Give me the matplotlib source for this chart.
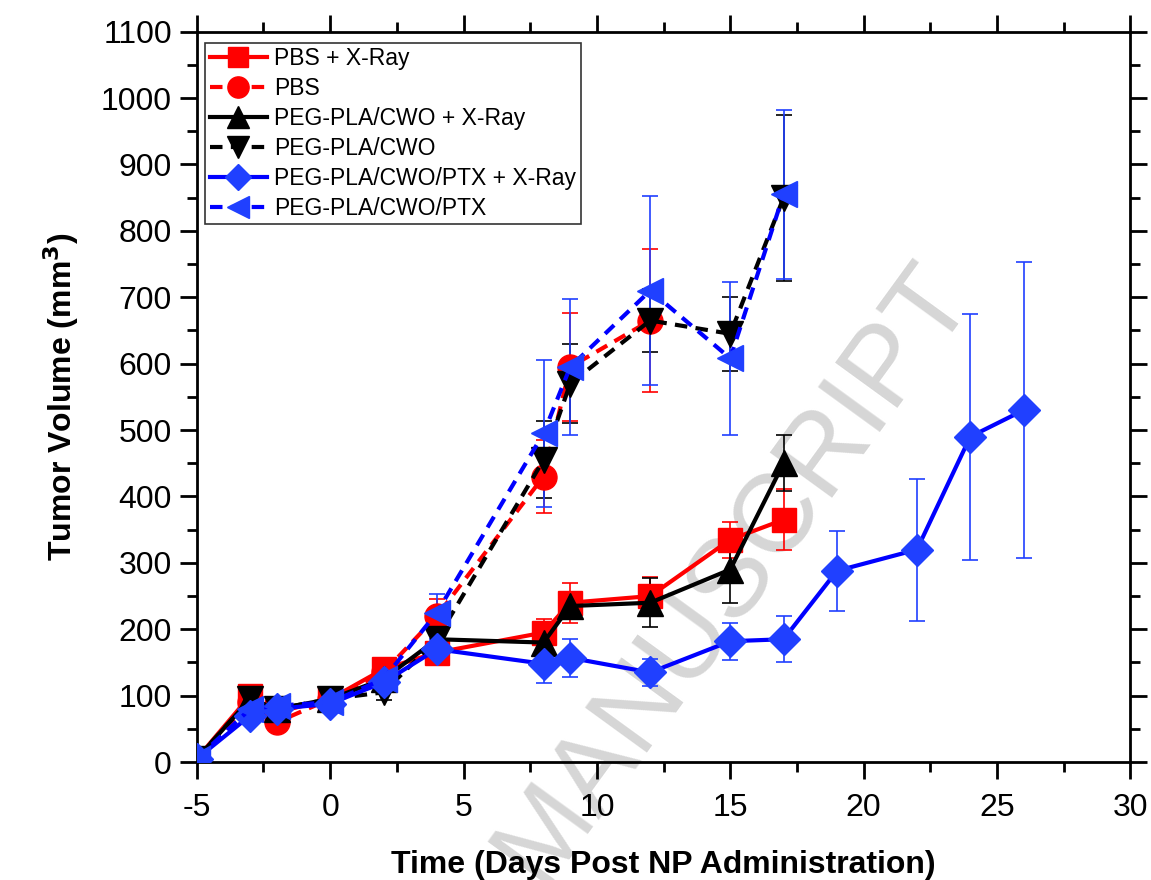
import numpy as np
import matplotlib
matplotlib.use('Agg')
import matplotlib.pyplot as plt
from matplotlib.ticker import MultipleLocator

plt.rcParams['font.family'] = ['Liberation Sans', 'DejaVu Sans']
plt.rcParams['axes.unicode_minus'] = False

# days post NP administration
days_full = [-5, -3, -2, 0, 2, 4, 8, 9, 12, 15, 17]
days_pbs = [-5, -3, -2, 0, 2, 4, 8, 9, 12]
days_ptx_x = [-5, -3, -2, 0, 2, 4, 8, 9, 12, 15, 17, 19, 22, 24, 26]

# PBS + X-Ray
pbs_x = [5, 100, 75, 95, 140, 165, 195, 240, 250, 335, 365]
pbs_x_err = [3, 12, 10, 8, 12, 15, 20, 30, 28, 27, 46]
# PBS
pbs = [5, 90, 60, 95, 135, 220, 430, 595, 665]
pbs_err = [3, 10, 10, 10, 15, 25, 55, 82, 108]
# PEG-PLA/CWO + X-Ray
cwo_x = [5, 95, 80, 95, 125, 185, 180, 235, 240, 290, 450]
cwo_x_err = [3, 12, 10, 8, 15, 15, 25, 18, 37, 50, 42]
# PEG-PLA/CWO
cwo = [5, 95, 80, 95, 105, 185, 455, 570, 665, 645, 850]
cwo_err = [3, 12, 10, 8, 12, 18, 58, 60, 48, 56, 125]
# PEG-PLA/CWO/PTX + X-Ray
ptx_x = [5, 70, 80, 88, 120, 170, 148, 157, 135, 182, 185, 288, 320, 490, 530]
ptx_x_err = [3, 10, 10, 8, 12, 15, 29, 29, 20, 28, 35, 60, 107, 185, 223]
# PEG-PLA/CWO/PTX
ptx = [5, 80, 85, 90, 125, 225, 495, 595, 710, 608, 855]
ptx_err = [3, 12, 10, 8, 12, 28, 111, 102, 142, 115, 127]

RED = '#ff0000'
BLACK = '#000000'
BLUE_LINE = '#0000ff'
BLUE_MK = '#2040ff'

fig = plt.figure(figsize=(11.51, 8.8), dpi=100)
ax = fig.add_axes([0.171, 0.134, 0.811, 0.830])

series = [
    (days_full, pbs_x, pbs_x_err, RED, RED, 's', '-', 'PBS + X-Ray', 17),
    (days_pbs, pbs, pbs_err, RED, RED, 'o', '--', 'PBS', 18),
    (days_full, cwo_x, cwo_x_err, BLACK, BLACK, '^', '-', 'PEG-PLA/CWO + X-Ray', 19),
    (days_full, cwo, cwo_err, BLACK, BLACK, 'v', '--', 'PEG-PLA/CWO', 19),
    (days_ptx_x, ptx_x, ptx_x_err, BLUE_LINE, BLUE_MK, 'D', '-', 'PEG-PLA/CWO/PTX + X-Ray', 16),
    (days_full, ptx, ptx_err, BLUE_LINE, BLUE_MK, '<', '--', 'PEG-PLA/CWO/PTX', 19),
]

for x, y, e, lc, mc, mk, ls, lab, ms in series:
    ax.errorbar(x, y, yerr=e, fmt='none', ecolor=mc, elinewidth=1.2,
                capsize=6, capthick=1.2, zorder=2)
    ax.plot(x, y, color=lc, linestyle=ls, linewidth=3, marker=mk,
            markersize=ms, markerfacecolor=mc, markeredgecolor=mc,
            dashes=(3, 2) if ls == '--' else (None, None),
            label=lab, zorder=3)

ax.set_xlim(-5, 30)
ax.set_ylim(0, 1100)
ax.xaxis.set_major_locator(MultipleLocator(5))
ax.xaxis.set_minor_locator(MultipleLocator(2.5))
ax.yaxis.set_major_locator(MultipleLocator(100))
ax.yaxis.set_minor_locator(MultipleLocator(50))
ax.tick_params(which='both', direction='out', top=True, right=True,
               width=2, labelsize=23)
ax.tick_params(which='major', length=12)
ax.tick_params(which='minor', length=7)
ax.tick_params(axis='x', labeltop=False, pad=10)
ax.tick_params(axis='y', labelright=False, pad=6)
for sp in ax.spines.values():
    sp.set_linewidth(2)

ax.set_xlabel('Time (Days Post NP Administration)', fontsize=23,
              fontweight='bold', labelpad=20)
ax.set_ylabel('Tumor Volume (mm$^\\mathbf{3}$)', fontsize=23,
              fontweight='bold', labelpad=14)

leg = ax.legend(loc='upper left', bbox_to_anchor=(0.009, 0.985), fontsize=16.5,
                frameon=True, fancybox=False, handlelength=2.5,
                handletextpad=0.3, borderpad=0.2, labelspacing=0.3,
                markerscale=0.85, borderaxespad=0)
leg.get_frame().set_edgecolor('black')
leg.get_frame().set_linewidth(1.2)

# watermark (cut at the bottom edge, as in the source figure)
ax.text(0.575, 0.26, 'MANUSCRIPT', transform=ax.transAxes, fontsize=80,
        color='#d6d6d6', rotation=54, ha='center', va='center',
        clip_on=False, zorder=0.5)

fig.savefig('out.png', dpi=100)
